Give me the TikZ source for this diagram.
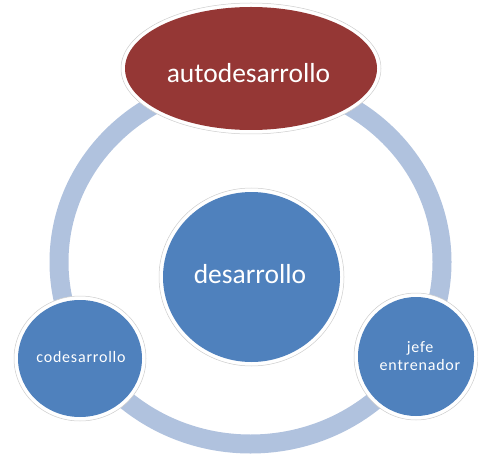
\documentclass[tikz,border=0pt]{standalone}
\usepackage{fontspec}
\setmainfont{Carlito}
\newfontfamily\spacedfont[LetterSpace=5]{Carlito}
\usetikzlibrary{shapes.geometric}

\definecolor{ringblue}{RGB}{176,194,222}
\definecolor{discblue}{RGB}{79,129,189}
\definecolor{selfred}{RGB}{149,55,53}
\definecolor{haloline}{RGB}{205,205,205}

\begin{document}
\begin{tikzpicture}[x=1pt,y=-1pt,
  halo/.style={ellipse, fill=white, draw=haloline, line width=0.5pt, inner sep=0pt, outer sep=0pt},
  body/.style={ellipse, draw=none, inner sep=0pt, outer sep=0pt},
  bigtext/.style={text=white, inner sep=0pt, font=\fontsize{27.5}{33}\selectfont},
  smalltext/.style={text=white, inner sep=0pt, align=center, font=\spacedfont\fontsize{16}{18}\selectfont}]
\useasboundingbox (0,0) rectangle (478,454);

% cycle ring behind the discs
\draw[ringblue, line width=19pt] (250.5,262) ellipse [x radius=191.5pt, y radius=182pt];

% central disc
\node[halo, minimum width=185pt, minimum height=178pt] (desH) at (251.5,277) {};
\node[body, fill=discblue, minimum width=177pt, minimum height=170pt] (des) at (251.5,277) {};
\node[bigtext] (desT) at (250,274.5) {desarrollo};

% top ellipse
\node[halo, minimum width=260pt, minimum height=131pt] (autoH) at (251,68.5) {};
\node[body, fill=selfred, minimum width=252pt, minimum height=123pt] (auto) at (251,68.5) {};
\node[bigtext] (autoT) at (248.5,73.5) {autodesarrollo};

% lower left disc
\node[halo, minimum width=132pt, minimum height=125pt] (coH) at (80,358.5) {};
\node[body, fill=discblue, minimum width=124pt, minimum height=117pt] (co) at (80,358.5) {};
\node[smalltext] (coT) at (81,357) {codesarrollo};

% lower right disc
\node[halo, minimum width=124pt, minimum height=127pt] (jefeH) at (416,356.5) {};
\node[body, fill=discblue, minimum width=116pt, minimum height=119pt] (jefe) at (416,356.5) {};
\node[smalltext] (jefeT) at (420,356.5) {jefe\\entrenador};
\end{tikzpicture}
\end{document}
